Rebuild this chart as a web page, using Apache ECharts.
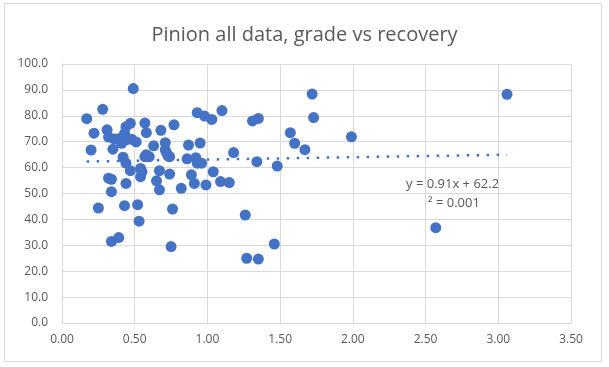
<!DOCTYPE html>
<html><head><meta charset="utf-8">
<script src="https://cdn.jsdelivr.net/npm/echarts@6/dist/echarts.min.js"></script>
<style>html,body{margin:0;padding:0;background:#fff}#c{width:609px;height:367px}</style>
</head><body><div id="c"></div>
<script>
const titleText = "Pinion all data, grade vs recovery";
const xTicks = [0, 3.5, 0.5];
const yTicks = [0, 100, 10];
const gradeValues = [0.17,0.28,0.49,0.22,0.20,0.31,0.32,0.36,0.40,0.44,0.48,0.51,0.41,0.35,0.44,0.47,0.43,0.57,0.58,0.68,0.77,0.93,0.98,1.03,1.10,0.63,0.71,0.87,0.95,0.71,0.73,0.86,0.92,0.93,0.96,0.58,0.60,0.57,0.42,0.44,0.47,0.54,0.54,0.55,0.67,0.74,0.89,1.04,0.32,0.34,0.44,0.65,0.91,0.99,1.09,1.15,0.34,0.67,0.82,0.25,0.43,0.52,0.76,0.53,0.34,0.39,0.75,0.72,0.74,1.18,1.34,1.48,1.31,1.35,1.72,1.73,1.57,1.60,1.67,1.99,1.26,1.46,1.27,1.35,2.57,3.06];
const recoveryValues = [78.9,82.5,90.5,73.3,66.8,74.6,71.8,71.0,71.3,70.7,70.9,69.9,69.4,67.1,75.8,77.1,73.2,77.2,73.5,74.4,76.5,81.2,79.9,78.6,82.0,68.4,69.6,68.7,69.5,66.8,64.4,63.4,63.8,61.7,61.7,65.0,64.2,64.2,64.0,61.7,58.8,59.7,56.5,58.4,58.8,57.5,57.2,58.4,55.9,55.5,53.9,54.9,53.9,53.3,54.6,54.2,50.7,51.4,52.0,44.4,45.3,45.7,44.0,39.3,31.5,33.0,29.5,65.5,64.2,65.8,62.3,60.6,78.0,79.0,88.4,79.3,73.5,69.4,66.9,71.9,41.7,30.5,25.0,24.7,36.8,88.3];
const trendSlope = 0.91;
const trendIntercept = 62.2;
const trendLabel = ["y = 0.91x + 62.2", "² = 0.001"];

const points = gradeValues.map((g, i) => [g, recoveryValues[i]]);
const xMin = Math.min(...gradeValues), xMax = Math.max(...gradeValues);
const trend = [[xMin, trendSlope * xMin + trendIntercept], [xMax, trendSlope * xMax + trendIntercept]];

const chart = echarts.init(document.getElementById('c'));
const txt = '#595959', grid = '#D9D9D9';
chart.setOption({
  animation: false,
  title: { text: titleText, left: 'center', top: 20,
    textStyle: { fontFamily: 'Open Sans', fontWeight: 'normal', fontSize: 20, color: txt } },
  grid: { left: 62, right: 38, top: 64, bottom: 44, containLabel: false },
  xAxis: { type: 'value', min: xTicks[0], max: xTicks[1], interval: xTicks[2],
    axisLine: { show: true, lineStyle: { color: grid } }, axisTick: { show: false },
    splitLine: { show: true, lineStyle: { color: grid } },
    axisLabel: { color: txt, fontFamily: 'Open Sans', fontSize: 12, margin: 11, formatter: v => v.toFixed(2) } },
  yAxis: { type: 'value', min: yTicks[0], max: yTicks[1], interval: yTicks[2],
    axisLine: { show: true, lineStyle: { color: grid } }, axisTick: { show: false },
    splitLine: { show: true, lineStyle: { color: grid } },
    axisLabel: { color: txt, fontFamily: 'Open Sans', fontSize: 12, margin: 14, formatter: v => v.toFixed(1) } },
  series: [
    { type: 'scatter', data: points, symbolSize: 11, itemStyle: { color: '#4472C4', opacity: 1 }, z: 3 },
    { type: 'line', data: trend, symbol: 'none', z: 4,
      lineStyle: { color: '#4472C4', width: 2.5, type: [2.5, 7.5] } }
  ],
  graphic: [
    { type: 'rect', shape: { x: 4.5, y: 3.5, width: 597, height: 358 }, style: { fill: 'none', stroke: '#D9D9D9', lineWidth: 1 }, silent: true },
    { type: 'text', left: 406, top: 178, style: { text: trendLabel[0], fill: txt, font: '13px "Open Sans"' } },
    { type: 'text', left: 428, top: 197, style: { text: trendLabel[1], fill: txt, font: '13px "Open Sans"' } }
  ]
});
</script></body></html>
